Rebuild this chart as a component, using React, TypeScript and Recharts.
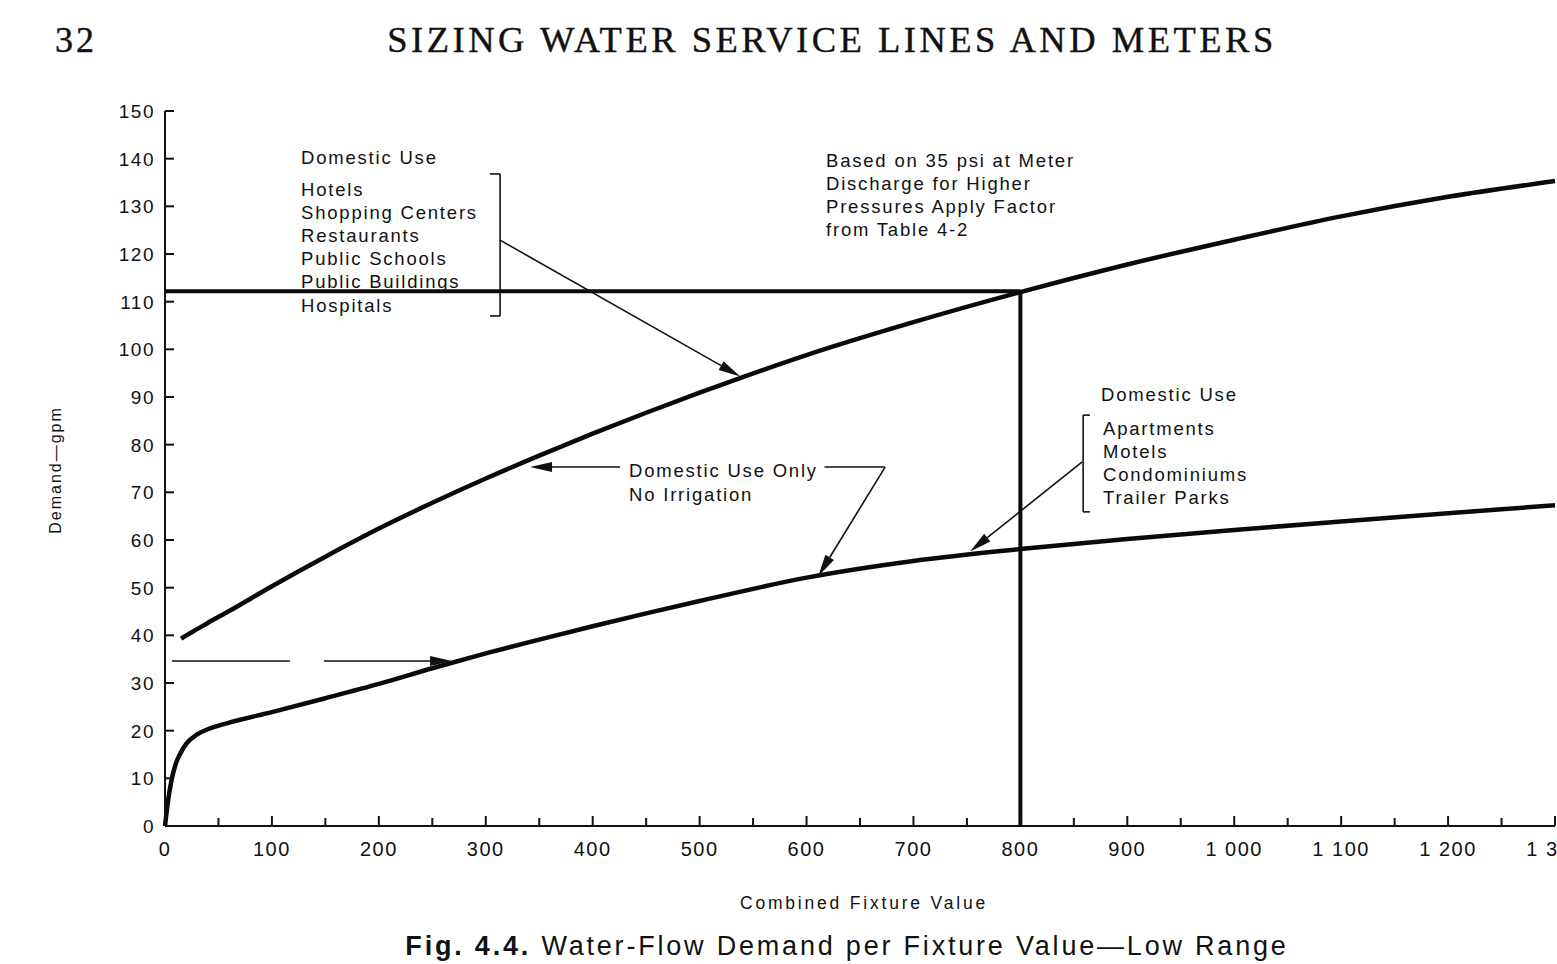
import { LineChart, Line, XAxis, YAxis, ReferenceLine } from "recharts"

// combined fixture value (x) and demand in gpm
const fixtureValues = [0, 3, 6, 10, 15, 20, 30, 40, 60, 100, 150, 200, 250, 300, 350, 400, 450, 500, 600, 700, 800, 900, 1000, 1100, 1200, 1300]
const commercialDemand = [null, null, null, null, 39.3, 40, 41.3, 42.6, 45.1, 50.3, 56.5, 62.4, 67.8, 72.9, 77.7, 82.3, 86.7, 90.9, 98.8, 105.7, 112, 117.8, 123, 127.9, 132, 135.3]
const residentialDemand = [0, 5.5, 9.5, 13, 15.5, 17.3, 19.2, 20.3, 21.7, 23.9, 26.8, 29.8, 33.1, 36.2, 39.1, 41.9, 44.6, 47.2, 52.1, 55.6, 58.1, 60.2, 62.1, 63.9, 65.6, 67.3]

const xTicks = [0, 50, 100, 150, 200, 250, 300, 350, 400, 450, 500, 550, 600, 650, 700, 750, 800, 850, 900, 950, 1000, 1050, 1100, 1150, 1200, 1250, 1300]
const yTicks = [0, 10, 20, 30, 40, 50, 60, 70, 80, 90, 100, 110, 120, 130, 140, 150]

const hotelsList = ["Hotels", "Shopping Centers", "Restaurants", "Public Schools", "Public Buildings", "Hospitals"]
const apartmentsList = ["Apartments", "Motels", "Condominiums", "Trailer Parks"]
const pressureNote = ["Based on 35 psi at Meter", "Discharge for Higher", "Pressures Apply Factor", "from Table 4-2"]

const rows = fixtureValues.map((x, i) => ({ x, upper: commercialDemand[i], lower: residentialDemand[i] }))

const SANS = '"Liberation Sans", Arial, sans-serif'
const SERIF = '"Liberation Serif", "Times New Roman", serif'

const fmt = (v: number) => (v >= 1000 ? `${Math.floor(v / 1000)} ${String(v % 1000).padStart(3, "0")}` : String(v))

const BottomTick = (props: any) => {
  const { x, y, payload } = props
  const major = payload.value % 100 === 0
  return (
    <g>
      <line x1={x} y1={y} x2={x} y2={y - (major ? 10 : 8)} stroke="#111" strokeWidth={2} />
      {major && (
        <text x={x} y={y + 30} textAnchor="middle" fontSize={20} letterSpacing={1.5} fontFamily={SANS} fill="#111">
          {fmt(payload.value)}
        </text>
      )}
    </g>
  )
}

const TopTick = (props: any) => {
  const { x, y } = props
  return <line x1={x} y1={y} x2={x} y2={y + 9} stroke="#111" strokeWidth={2} />
}

const LeftTick = (props: any) => {
  const { x, y, payload } = props
  return (
    <g>
      <line x1={x} y1={y} x2={x + 9} y2={y} stroke="#111" strokeWidth={2} />
      <text x={x - 10} y={y + 7} textAnchor="end" fontSize={19} letterSpacing={1.5} fontFamily={SANS} fill="#111">
        {payload.value}
      </text>
    </g>
  )
}

const RightTick = (props: any) => {
  const { x, y } = props
  return <line x1={x - 4} y1={y} x2={x + 2} y2={y} stroke="#111" strokeWidth={2} />
}

const arrow = (dash?: string) => (props: any) => {
  const { x1, y1, x2, y2 } = props
  const a = Math.atan2(y2 - y1, x2 - x1)
  const len = 22
  const half = 5
  const bx = x2 - len * Math.cos(a)
  const by = y2 - len * Math.sin(a)
  const px = -Math.sin(a) * half
  const py = Math.cos(a) * half
  return (
    <g>
      <line x1={x1} y1={y1} x2={bx} y2={by} stroke="#111" strokeWidth={1.6} strokeDasharray={dash} />
      <polygon points={`${x2},${y2} ${bx + px},${by + py} ${bx - px},${by - py}`} fill="#111" />
    </g>
  )
}

const ax = { xAxisId: "b", yAxisId: "l" }

export default function App() {
  return (
    <div style={{ position: "absolute", left: 0, top: 0, width: 1557, height: 964, background: "#fff", overflow: "hidden" }}>
      <LineChart width={1557} height={964} data={rows} margin={{ top: 111, right: 0, left: 0, bottom: 0 }}>
        <XAxis xAxisId="b" dataKey="x" type="number" domain={[0, 1300]} ticks={xTicks} height={138} tickSize={0} tickMargin={0} tickLine={false} axisLine={{ stroke: "#111", strokeWidth: 2 }} tick={<BottomTick />} interval={0} />
        <XAxis xAxisId="t" orientation="top" dataKey="x" type="number" domain={[0, 1300]} ticks={xTicks} height={0} tickSize={0} tickMargin={0} tickLine={false} axisLine={{ stroke: "#111", strokeWidth: 2 }} tick={<TopTick />} interval={0} />
        <YAxis yAxisId="l" type="number" domain={[0, 150]} ticks={yTicks} width={165} tickSize={0} tickMargin={0} tickLine={false} axisLine={{ stroke: "#111", strokeWidth: 2 }} tick={<LeftTick />} interval={0} />
        <YAxis yAxisId="r" orientation="right" type="number" domain={[0, 150]} ticks={yTicks} width={2} tickSize={0} tickMargin={0} tickLine={false} axisLine={false} tick={<RightTick />} interval={0} />

        <Line {...ax} type="monotone" dataKey="upper" stroke="#0a0a0a" strokeWidth={4.5} dot={false} isAnimationActive={false} />
        <Line {...ax} type="monotone" dataKey="lower" stroke="#0a0a0a" strokeWidth={4.5} dot={false} isAnimationActive={false} />

        {/* 800 fixture value read-off */}
        <ReferenceLine {...ax} segment={[{ x: 0, y: 112.2 }, { x: 800, y: 112.2 }]} stroke="#0a0a0a" strokeWidth={4} />
        <ReferenceLine {...ax} segment={[{ x: 800, y: 0 }, { x: 800, y: 112.2 }]} stroke="#0a0a0a" strokeWidth={4} />

        {/* brackets */}
        <ReferenceLine {...ax} segment={[{ x: 313.4, y: 136.8 }, { x: 313.4, y: 107 }]} stroke="#111" strokeWidth={1.6} />
        <ReferenceLine {...ax} segment={[{ x: 304, y: 136.8 }, { x: 313.4, y: 136.8 }]} stroke="#111" strokeWidth={1.6} />
        <ReferenceLine {...ax} segment={[{ x: 304, y: 107 }, { x: 313.4, y: 107 }]} stroke="#111" strokeWidth={1.6} />
        <ReferenceLine {...ax} segment={[{ x: 858.7, y: 86.2 }, { x: 858.7, y: 65.9 }]} stroke="#111" strokeWidth={1.6} />
        <ReferenceLine {...ax} segment={[{ x: 858.7, y: 86.2 }, { x: 865, y: 86.2 }]} stroke="#111" strokeWidth={1.6} />
        <ReferenceLine {...ax} segment={[{ x: 858.7, y: 65.9 }, { x: 865, y: 65.9 }]} stroke="#111" strokeWidth={1.6} />

        {/* pointer arrows */}
        <ReferenceLine {...ax} segment={[{ x: 313.4, y: 122.9 }, { x: 538, y: 94.3 }]} shape={arrow()} />
        <ReferenceLine {...ax} segment={[{ x: 425.6, y: 75.3 }, { x: 341.4, y: 75.3 }]} shape={arrow()} />
        <ReferenceLine {...ax} segment={[{ x: 616.8, y: 75.3 }, { x: 673.5, y: 75.3 }]} stroke="#111" strokeWidth={1.6} />
        <ReferenceLine {...ax} segment={[{ x: 673.5, y: 75.3 }, { x: 610.9, y: 52.4 }]} shape={arrow()} />
        <ReferenceLine {...ax} segment={[{ x: 857.8, y: 76.4 }, { x: 753, y: 57.6 }]} shape={arrow()} />
        <ReferenceLine {...ax} segment={[{ x: 6.5, y: 34.6 }, { x: 268.5, y: 34.6 }]} shape={arrow("118 34 400")} />
      </LineChart>

      <svg width={1557} height={964} style={{ position: "absolute", left: 0, top: 0, pointerEvents: "none" }}>
        <text x={55} y={52} fontFamily={SERIF} fontSize={36} letterSpacing={3} fill="#111" stroke="#111" strokeWidth={0.4}>32</text>
        <text x={832} y={52} textAnchor="middle" fontFamily={SERIF} fontSize={36.5} letterSpacing={3.5} fill="#111" stroke="#111" strokeWidth={0.4}>
          SIZING WATER SERVICE LINES AND METERS
        </text>

        <g fontFamily={SANS} fontSize={18.5} letterSpacing={1.8} fill="#111">
          <text x={301} y={163.5}>Domestic Use</text>
          {hotelsList.map((t, i) => (
            <text key={t} x={301} y={196 + i * 23.1}>{t}</text>
          ))}
          {pressureNote.map((t, i) => (
            <text key={t} x={826} y={167 + i * 23}>{t}</text>
          ))}
          <text x={629} y={477}>Domestic Use Only</text>
          <text x={629} y={501}>No Irrigation</text>
          <text x={1101} y={401}>Domestic Use</text>
          {apartmentsList.map((t, i) => (
            <text key={t} x={1103} y={435 + i * 23}>{t}</text>
          ))}
        </g>

        <text x={61} y={470} transform="rotate(-90, 61, 470)" textAnchor="middle" fontFamily={SANS} fontSize={16} letterSpacing={2} fill="#111">
          Demand—gpm
        </text>
        <text x={864} y={909} textAnchor="middle" fontFamily={SANS} fontSize={17.5} letterSpacing={2.8} fill="#111">
          Combined Fixture Value
        </text>
        <text x={847} y={955} textAnchor="middle" fontFamily={SANS} fontSize={27} letterSpacing={2.8} fill="#111">
          <tspan fontWeight="bold">Fig. 4.4.</tspan> Water-Flow Demand per Fixture Value—Low Range
        </text>
      </svg>
    </div>
  )
}
